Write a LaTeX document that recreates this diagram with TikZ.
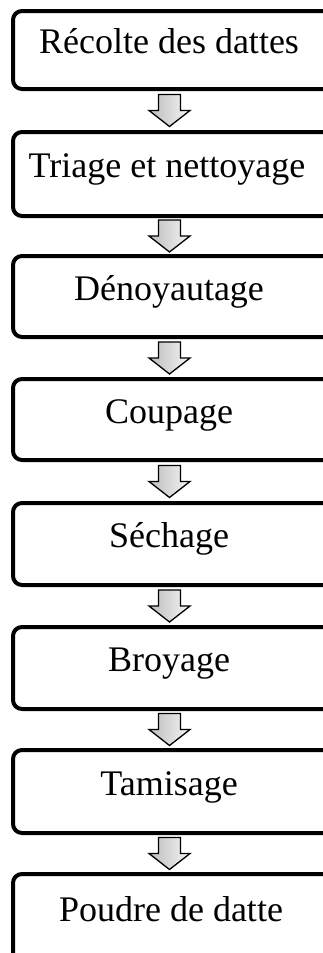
\documentclass[tikz,border=0pt]{standalone}
\usepackage{fontspec}
\setmainfont{Liberation Serif}
\usetikzlibrary{calc}
\begin{document}
\begin{tikzpicture}[x=1pt,y=1pt,
  stepbox/.style={draw=black, line width=4pt, rounded corners=9pt, fill=white,
    minimum width=340pt, minimum height=80pt, anchor=north, inner sep=0pt},
  steptext/.style={inner sep=0pt, font=\fontsize{36}{41}\selectfont,
    text height=0.7em, text depth=0em},
  flowarrow/.style={draw=black, line width=1.3pt, line join=miter,
    left color=black!26, right color=black!4}]
  \useasboundingbox (0,0) rectangle (323,-953);
  \clip (0,0) rectangle (323,-953);

  % process steps, top to bottom (boxes run past the right edge)
  \foreach \n/\top/\h in {1/9/78,2/130/84,3/254/81,4/377/81,5/501/82,6/625/82,7/748/83,8/872/88}{
    \node[stepbox, minimum height=\h pt] (b\n) at (183,-\top) {};
  }
  \node[steptext] (t1) at ($(b1.center)+(-14,0)$) {Récolte des dattes};
  \node[steptext] (t2) at ($(b2.center)+(-16,0)$) {Triage et nettoyage};
  \node[steptext] (t3) at ($(b3.center)+(-14,0)$) {Dénoyautage};
  \node[steptext] (t4) at ($(b4.center)+(-14,0)$) {Coupage};
  \node[steptext] (t5) at ($(b5.center)+(-14,0)$) {Séchage};
  \node[steptext] (t6) at ($(b6.center)+(-14,0)$) {Broyage};
  \node[steptext] (t7) at ($(b7.center)+(-14,0)$) {Tamisage};
  \node[steptext] (t8) at ($(b8.center)+(-12,0)$) {Poudre de datte};

  % hollow block arrows linking consecutive steps
  \foreach \i/\j in {1/2,2/3,3/4,4/5,5/6,6/7,7/8}{
    \coordinate (m\i) at ($(b\i.south)!0.5!(b\j.north)+(-13.5,0)$);
    \path[flowarrow] ($(m\i)+(-11,16)$) -- ($(m\i)+(11,16)$) -- ($(m\i)+(11,0)$)
      -- ($(m\i)+(20.5,0)$) -- ($(m\i)+(0,-16)$) -- ($(m\i)+(-20.5,0)$)
      -- ($(m\i)+(-11,0)$) -- cycle;
  }
\end{tikzpicture}
\end{document}
